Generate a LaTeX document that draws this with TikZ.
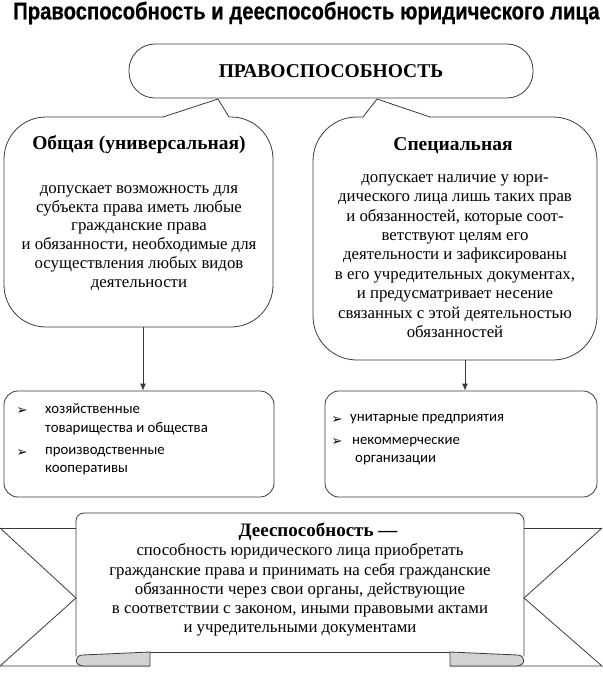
\documentclass[tikz,border=0pt]{standalone}
\usepackage{fontspec}
\setmainfont{Liberation Serif}
\setsansfont{Carlito}
\newfontfamily\headfont[FakeStretch=0.845,BoldFeatures={FakeBold=0.6}]{Liberation Sans}
\newfontfamily\symfont{DejaVu Sans}
\usetikzlibrary{arrows.meta,positioning}
\definecolor{ink}{HTML}{3A3A3A}
\definecolor{fold}{HTML}{D2D2D2}

\tikzset{
  outline/.style={draw=ink,line width=.8pt},
  body/.style={font=\fontsize{16.8}{19.2}\selectfont,align=center,inner sep=0pt},
  heading/.style={font=\fontsize{19.5}{22}\selectfont\bfseries,inner sep=0pt},
  listbox/.style={outline,rounded corners=14pt,minimum height=106pt},
  item/.style={font=\sffamily\fontsize{14.8}{18.5}\selectfont,align=left,anchor=west,inner sep=0pt},
  bullet/.style={font=\symfont\fontsize{13}{13}\selectfont,inner sep=0pt},
  link/.style={ink,line width=.8pt,-{Latex[length=7pt,width=6pt]}},
}

\begin{document}
\begin{tikzpicture}[x=1pt,y=-1pt]
\useasboundingbox (0,0) rectangle (602,682);
\node[font=\headfont\bfseries\fontsize{24}{26}\selectfont,anchor=west,inner sep=0pt] (title) at (13,13) {Правоспособность и дееспособность юридического лица};

% top box
\node[outline,rounded corners=26pt,minimum width=404pt,minimum height=54pt,font=\fontsize{19.5}{22}\selectfont\bfseries] (legal) at (331,71) {ПРАВОСПОСОБНОСТЬ};

% general bubble
\draw[outline,rounded corners=42pt] (229,117) -- (273,117) -- (273,327) -- (4,327) -- (4,117) -- (163,117);
\draw[outline] (163,117) -- (218,99) -- (229,117);
\node[heading] (general) at (139,145) {Общая (универсальная)};
\node[body,font=\fontsize{16.8}{18.8}\selectfont] (generaltext) at (139,238) {допускает возможность для\\субъекта права иметь любые\\гражданские права\\и обязанности, необходимые для\\осуществления любых видов\\деятельности};
\coordinate (generalfoot) at (143,327);

% special bubble
\draw[outline,rounded corners=44pt] (430,117) -- (597,117) -- (597,360) -- (313,360) -- (313,117) -- (363,117);
\draw[outline] (363,117) -- (377,99) -- (430,117);
\node[heading] (special) at (453,146) {Специальная};
\node[body,font=\fontsize{16.8}{19.4}\selectfont] (specialtext) at (455,256) {допускает наличие у юри-\\дического лица лишь таких прав\\и обязанностей, которые соот-\\ветствуют целям его\\деятельности и зафиксированы\\в его учредительных документах,\\и предусматривает несение\\связанных с этой деятельностью\\обязанностей};
\coordinate (specialfoot) at (465,360);

% lists
\node[listbox,minimum width=270pt] (generallist) at (139,444) {};
\node[listbox,minimum width=272pt] (speciallist) at (461,444) {};
\draw[link] (generalfoot) -- (generalfoot |- generallist.north);
\draw[link] (specialfoot) -- (specialfoot |- speciallist.north);

\node[bullet] (b1) at (22,411) {➢};
\node[item] (i1) at (45,419) {хозяйственные\\товарищества и общества};
\node[bullet] (b2) at (22,453) {➢};
\node[item] (i2) at (45,461) {производственные\\кооперативы};
\node[bullet] (b3) at (337,420) {➢};
\node[item] (i3) at (350,419) {унитарные предприятия};
\node[bullet] (b4) at (337,442) {➢};
\node[item] (i4) at (352,451) {некоммерческие\\\hspace*{3pt}организации};

% ribbon
\draw[outline] (0,528) -- (76,528);
\draw[outline] (0,528) -- (76,598) -- (0,666) -- (150,666);
\draw[outline] (602,528) -- (524,528);
\draw[outline] (602,528) -- (524,598) -- (602,666) -- (450,666);
\filldraw[outline,fill=fold] (150,652) -- (82,655) .. controls (74,656) and (74,666) .. (84,666) -- (150,666) -- cycle;
\filldraw[outline,fill=fold] (450,652) -- (518,655) .. controls (526,656) and (526,666) .. (516,666) -- (450,666) -- cycle;
\draw[outline,rounded corners=8pt] (76,656) -- (76,513) -- (524,513) -- (524,656);
\draw[outline] (150,652) -- (450,652);
\node[heading,font=\fontsize{19}{22}\selectfont\bfseries] (capacity) at (318,532) {Дееспособность —};
\node[body] (capacitytext) at (300,590) {способность юридического лица приобретать\\гражданские права и принимать на себя гражданские\\обязанности через свои органы, действующие\\в соответствии с законом, иными правовыми актами\\и учредительными документами};
\end{tikzpicture}
\end{document}
